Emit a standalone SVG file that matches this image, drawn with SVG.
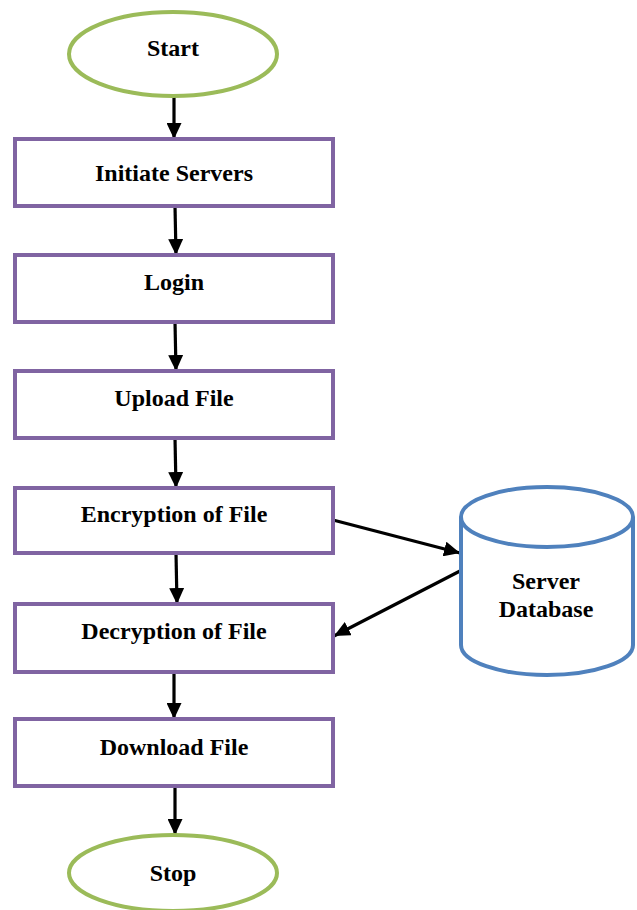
<svg xmlns="http://www.w3.org/2000/svg" width="637" height="910" viewBox="0 0 637 910">
<defs>
<style>
.term{fill:#fff;stroke:#9BBB59;stroke-width:4}
.proc{fill:#fff;stroke:#8064A2;stroke-width:4}
.db{fill:#fff;stroke:#4F81BD;stroke-width:4}
.lbl{font-family:"Liberation Serif","Times New Roman",serif;font-weight:bold;font-size:24px;fill:#000;text-anchor:middle}
.conn{stroke:#000;stroke-width:3.2;fill:none;marker-end:url(#ah)}
</style>
<marker id="ah" markerUnits="userSpaceOnUse" markerWidth="16" markerHeight="15" viewBox="0 0 16 15" refX="16" refY="7.5" orient="auto">
<path d="M0,0 L16,7.5 L0,15 z" fill="#000"/>
</marker>
</defs>
<rect width="637" height="910" fill="#fff"/>
<g id="connectors">
<line class="conn" x1="174" y1="97" x2="174" y2="139"/>
<line class="conn" x1="175" y1="206" x2="176" y2="255"/>
<line class="conn" x1="175" y1="322" x2="176" y2="371"/>
<line class="conn" x1="175" y1="438" x2="176" y2="488"/>
<line class="conn" x1="176" y1="553" x2="177" y2="604"/>
<line class="conn" x1="174" y1="672" x2="174" y2="719"/>
<line class="conn" x1="175" y1="786" x2="175" y2="835"/>
<line class="conn" x1="333" y1="520" x2="460" y2="553"/>
<line class="conn" x1="460" y1="571" x2="334" y2="636"/>
</g>
<g id="start">
<ellipse class="term" cx="173" cy="54" rx="104" ry="42"/>
<text class="lbl" x="173" y="56">Start</text>
</g>
<g id="initiate">
<rect class="proc" x="15" y="139" width="318" height="67"/>
<text class="lbl" x="174" y="181">Initiate Servers</text>
</g>
<g id="login">
<rect class="proc" x="15" y="255" width="318" height="67"/>
<text class="lbl" x="174" y="290">Login</text>
</g>
<g id="upload">
<rect class="proc" x="15" y="371" width="318" height="67"/>
<text class="lbl" x="174" y="406">Upload File</text>
</g>
<g id="encryption">
<rect class="proc" x="15" y="488" width="318" height="65"/>
<text class="lbl" x="174" y="522">Encryption of File</text>
</g>
<g id="decryption">
<rect class="proc" x="15" y="604" width="318" height="68"/>
<text class="lbl" x="174" y="639">Decryption of File</text>
</g>
<g id="download">
<rect class="proc" x="15" y="719" width="318" height="67"/>
<text class="lbl" x="174" y="755">Download File</text>
</g>
<g id="stop">
<ellipse class="term" cx="173" cy="873" rx="104" ry="38"/>
<text class="lbl" x="173" y="881">Stop</text>
</g>
<g id="database">
<path class="db" d="M461,517 L461,645 A86,30 0 0 0 633,645 L633,517 A86,30 0 0 0 461,517 Z"/>
<path class="db" d="M461,517 A86,30 0 0 0 633,517" fill="none"/>
<text class="lbl" x="546" y="589">Server</text>
<text class="lbl" x="546" y="617">Database</text>
</g>
</svg>
